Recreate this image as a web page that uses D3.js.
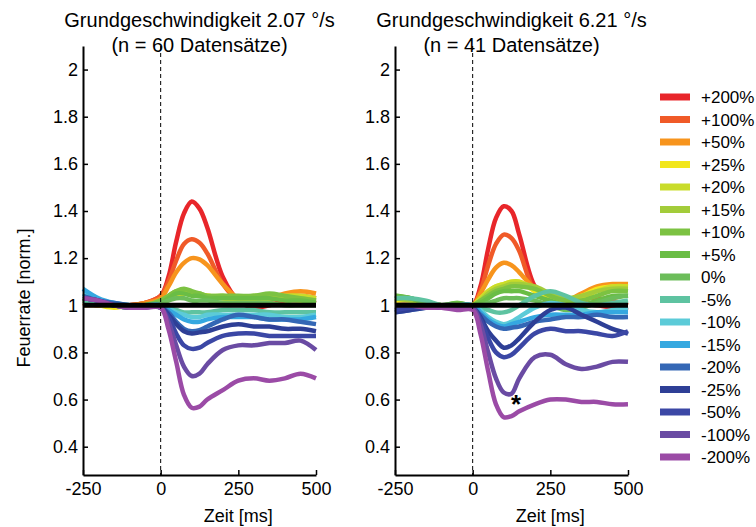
<!DOCTYPE html>
<html>
<head>
<meta charset="utf-8">
<script src="https://cdn.jsdelivr.net/npm/d3@7"></script>
<style>
  body { margin: 0; background: #fff; }
  text { font-family: "Liberation Sans", Arial, sans-serif; }
</style>
</head>
<body>
<div id="chart"></div>
<script>
// time points (ms) used for every trace
var times = [-250, -200, -150, -100, -50, 0, 25, 50, 75, 100, 125, 150, 200, 250, 300, 350, 400, 450, 500];

var levels = ["+200%", "+100%", "+50%", "+25%", "+20%", "+15%", "+10%", "+5%", "0%",
              "-5%", "-10%", "-15%", "-20%", "-25%", "-50%", "-100%", "-200%"];

var yTicks = [0.4, 0.6, 0.8, 1, 1.2, 1.4, 1.6, 1.8, 2];
var xTicks = [-250, 0, 250, 500];

// Grundgeschwindigkeit 2.07 deg/s, one row per level (same order as levels)
var slowRates = [
  [1.01,1.00,1.00,1.00,1.01,1.04,1.12,1.27,1.39,1.44,1.41,1.33,1.12,1.02,0.99,1.00,1.02,1.02,1.01],
  [1.01,1.00,1.00,1.00,1.01,1.04,1.10,1.19,1.26,1.28,1.265,1.22,1.09,1.02,1.00,1.02,1.04,1.04,1.03],
  [1.00,1.00,1.00,1.00,1.01,1.03,1.08,1.14,1.18,1.20,1.195,1.17,1.09,1.03,1.02,1.03,1.05,1.06,1.05],
  [1.01,1.00,0.99,1.00,1.00,1.01,1.03,1.04,1.05,1.05,1.04,1.04,1.03,1.02,1.02,1.03,1.03,1.02,1.02],
  [1.02,1.01,1.00,1.00,1.00,1.01,1.03,1.05,1.06,1.05,1.04,1.04,1.03,1.03,1.02,1.03,1.04,1.04,1.03],
  [1.02,1.01,1.00,1.00,1.00,1.02,1.04,1.06,1.06,1.05,1.05,1.04,1.04,1.03,1.04,1.04,1.03,1.03,1.02],
  [1.03,1.01,1.00,1.00,1.00,1.02,1.04,1.06,1.07,1.06,1.05,1.04,1.04,1.04,1.04,1.05,1.04,1.03,1.02],
  [1.03,1.01,1.00,0.99,1.00,1.01,1.03,1.05,1.05,1.04,1.04,1.03,1.03,1.03,1.03,1.03,1.02,1.02,1.01],
  [1.02,1.01,1.00,0.99,1.00,1.01,1.02,1.03,1.03,1.02,1.02,1.02,1.01,1.01,1.01,1.01,1.00,1.00,1.00],
  [1.02,1.01,1.00,1.00,1.00,1.00,0.99,0.98,0.97,0.97,0.97,0.97,0.98,0.98,0.98,0.97,0.97,0.97,0.97],
  [1.05,1.02,1.01,1.00,1.00,1.00,0.99,0.97,0.96,0.95,0.95,0.96,0.96,0.96,0.96,0.96,0.95,0.95,0.96],
  [1.07,1.03,1.01,1.00,1.00,1.00,0.98,0.96,0.94,0.93,0.93,0.94,0.95,0.95,0.95,0.94,0.94,0.94,0.95],
  [1.04,1.02,1.01,1.00,1.00,0.99,0.97,0.93,0.90,0.89,0.895,0.91,0.94,0.96,0.95,0.94,0.94,0.93,0.92],
  [1.03,1.02,1.00,1.00,1.00,0.99,0.96,0.92,0.89,0.88,0.885,0.89,0.91,0.92,0.91,0.91,0.90,0.90,0.89],
  [1.03,1.02,1.00,0.99,1.00,0.99,0.95,0.88,0.83,0.815,0.82,0.84,0.87,0.88,0.88,0.87,0.87,0.87,0.87],
  [1.03,1.02,1.00,0.99,0.99,0.99,0.93,0.83,0.74,0.70,0.71,0.75,0.81,0.83,0.83,0.84,0.84,0.85,0.81],
  [1.03,1.02,1.00,0.99,0.99,0.99,0.90,0.76,0.62,0.565,0.57,0.60,0.64,0.68,0.69,0.68,0.69,0.71,0.69]
];

// Grundgeschwindigkeit 6.21 deg/s
var fastRates = [
  [1.00,1.00,1.00,1.00,1.00,1.00,1.08,1.24,1.37,1.42,1.40,1.30,1.08,1.01,1.01,1.01,1.00,0.99,0.98],
  [1.00,1.00,1.00,1.00,1.00,1.00,1.06,1.17,1.26,1.30,1.285,1.23,1.06,1.02,1.01,1.03,1.03,1.02,1.00],
  [1.00,1.00,1.00,1.00,1.00,1.00,1.05,1.11,1.16,1.18,1.17,1.14,1.07,1.03,1.02,1.05,1.08,1.09,1.09],
  [1.02,1.01,1.01,1.00,1.00,1.00,1.03,1.06,1.08,1.09,1.10,1.10,1.06,1.03,1.02,1.04,1.07,1.08,1.08],
  [1.03,1.02,1.01,1.00,1.00,1.00,1.03,1.06,1.08,1.09,1.10,1.10,1.07,1.04,1.02,1.03,1.06,1.08,1.08],
  [1.03,1.02,1.01,1.00,1.00,1.00,1.02,1.05,1.07,1.08,1.09,1.09,1.08,1.05,1.03,1.04,1.06,1.07,1.07],
  [1.04,1.03,1.01,1.00,1.01,1.00,1.02,1.04,1.06,1.07,1.08,1.08,1.07,1.04,1.02,1.02,1.04,1.06,1.06],
  [1.04,1.03,1.01,1.00,1.01,1.00,1.01,1.03,1.05,1.06,1.06,1.06,1.04,1.02,1.00,1.00,1.02,1.04,1.04],
  [1.03,1.03,1.01,1.00,1.00,1.00,1.00,1.01,1.02,1.03,1.03,1.03,1.02,1.00,0.98,0.99,1.01,1.03,1.04],
  [1.03,1.03,1.02,1.00,1.00,1.00,0.99,0.98,0.97,0.97,0.98,1.00,1.04,1.06,1.04,1.01,1.00,1.01,1.02],
  [1.00,1.00,1.00,1.00,1.00,1.00,0.98,0.95,0.93,0.92,0.93,0.95,0.99,1.01,1.00,0.98,0.97,0.98,0.99],
  [0.99,0.99,1.00,1.00,1.00,1.00,0.97,0.94,0.92,0.91,0.92,0.93,0.95,0.96,0.96,0.96,0.97,0.97,0.97],
  [0.97,0.98,0.99,1.00,1.00,0.99,0.96,0.93,0.91,0.90,0.905,0.91,0.93,0.94,0.95,0.95,0.96,0.95,0.95],
  [0.97,0.98,0.99,0.99,1.00,0.99,0.95,0.89,0.85,0.82,0.83,0.86,0.93,0.98,0.99,0.96,0.93,0.90,0.88],
  [0.98,0.99,0.99,0.99,0.99,0.99,0.94,0.86,0.80,0.78,0.79,0.82,0.88,0.90,0.89,0.89,0.88,0.87,0.89],
  [1.00,1.00,0.99,0.99,0.99,0.99,0.92,0.80,0.69,0.63,0.625,0.69,0.78,0.79,0.75,0.73,0.74,0.76,0.76],
  [1.00,1.00,0.99,0.99,0.98,0.98,0.88,0.72,0.58,0.525,0.53,0.55,0.58,0.60,0.60,0.59,0.59,0.58,0.58]
];

var colors = ["#e8262a", "#f05a28", "#f7941d", "#f2e61b", "#c9dc2a", "#a3cc3a", "#7cc242", "#6abd45",
              "#6cbd5a", "#5ec3a1", "#5ccbd8", "#35a8e0", "#3467b5", "#2e3f96", "#3b47a5", "#6a4ba3", "#9b4ba6"];

var color = d3.scaleOrdinal().domain(levels).range(colors);

var svg = d3.select("#chart")
  .append("svg")
    .attr("width", 756)
    .attr("height", 527);

var panels = [
  {left: 83, title: "Grundgeschwindigkeit 2.07 °/s", sub: "(n = 60 Datensätze)", rates: slowRates},
  {left: 395, title: "Grundgeschwindigkeit 6.21 °/s", sub: "(n = 41 Datensätze)", rates: fastRates, star: true}
];

var pw = 233, plotTop = 46, plotBottom = 475;

panels.forEach(function(p) {
  var x = d3.scaleLinear().domain([-250, 500]).range([p.left, p.left + pw]);
  var y = d3.scaleLinear().domain([0.28, 2.1]).range([plotBottom, plotTop]);

  var g = svg.append("g");

  var line = d3.line()
    .x(function(d, i) { return x(times[i]); })
    .y(function(d) { return y(d); })
    .curve(d3.curveCatmullRom.alpha(0.5));

  // traces
  g.selectAll(".trace")
    .data(p.rates)
    .enter().append("path")
    .attr("class", "trace")
    .attr("fill", "none")
    .attr("stroke", function(d, i) { return color(levels[i]); })
    .attr("stroke-width", 4.5)
    .attr("stroke-linejoin", "round")
    .attr("d", line);

  // reference line at 1
  g.append("line")
    .attr("x1", x(-250)).attr("x2", x(500))
    .attr("y1", y(1)).attr("y2", y(1))
    .attr("stroke", "#000")
    .attr("stroke-width", 5);

  // stimulus onset
  g.append("line")
    .attr("x1", x(0)).attr("x2", x(0))
    .attr("y1", plotTop).attr("y2", plotBottom)
    .attr("stroke", "#000")
    .attr("stroke-width", 1)
    .attr("stroke-dasharray", "4,3");

  var yAxis = g.append("g")
    .attr("transform", "translate(" + p.left + ",0)")
    .call(d3.axisLeft(y).tickValues(yTicks).tickSizeInner(-5).tickSizeOuter(0).tickPadding(5)
      .tickFormat(function(d) { return String(+d.toFixed(1)); }));

  var xAxis = g.append("g")
    .attr("transform", "translate(0," + plotBottom + ")")
    .call(d3.axisBottom(x).tickValues(xTicks).tickSizeInner(-5).tickSizeOuter(0).tickPadding(7)
      .tickFormat(function(d) { return String(d); }));

  [yAxis, xAxis].forEach(function(a) {
    a.select(".domain").attr("stroke-width", 2);
    a.selectAll(".tick line").attr("stroke-width", 1.5);
    a.selectAll("text").style("font-size", "18px").attr("fill", "#000");
  });

  // titles
  g.append("text")
    .attr("x", p.left + pw / 2)
    .attr("y", 27)
    .attr("text-anchor", "middle")
    .style("font-size", "20px")
    .text(p.title);
  g.append("text")
    .attr("x", p.left + pw / 2)
    .attr("y", 52)
    .attr("text-anchor", "middle")
    .style("font-size", "20px")
    .text(p.sub);

  g.append("text")
    .attr("x", x(250))
    .attr("y", 522)
    .attr("text-anchor", "middle")
    .style("font-size", "18px")
    .text("Zeit [ms]");

  if (p.star) {
    g.append("text")
      .attr("x", x(140))
      .attr("y", y(0.6) + 13)
      .attr("text-anchor", "middle")
      .style("font-size", "26px")
      .style("font-weight", "bold")
      .text("*");
  }
});

svg.append("text")
  .attr("transform", "translate(30,298)rotate(-90)")
  .attr("text-anchor", "middle")
  .style("font-size", "18px")
  .text("Feuerrate [norm.]");

// legend
var legend = svg.append("g")
  .selectAll("g")
  .data(levels)
  .enter().append("g")
  .attr("transform", function(d, i) { return "translate(660," + (97 + i * 22.5) + ")"; });

legend.append("line")
  .attr("x1", 0).attr("x2", 30)
  .attr("stroke", function(d) { return color(d); })
  .attr("stroke-width", 7);

legend.append("text")
  .attr("x", 41)
  .attr("y", 6)
  .style("font-size", "17px")
  .text(function(d) { return d; });
</script>
</body>
</html>
